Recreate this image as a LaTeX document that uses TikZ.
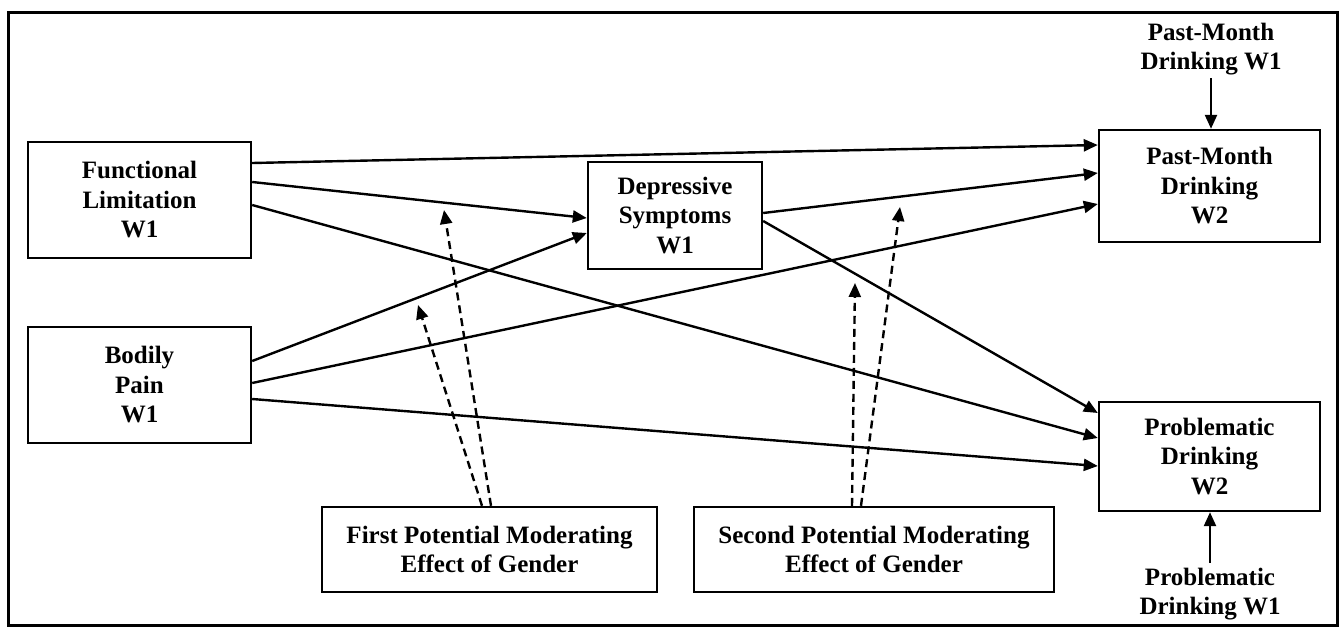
\documentclass[tikz,border=0pt]{standalone}
\usepackage{fontspec}
\setmainfont{Liberation Serif}
\usetikzlibrary{arrows.meta}
\begin{document}
\begin{tikzpicture}[x=1pt,y=-1pt,
  txt/.style={font=\fontsize{25}{29.5}\selectfont\bfseries, align=center},
  box/.style={txt, draw, line width=2.4pt, inner sep=0pt},
  arr/.style={line width=2.4pt, -{Triangle[length=14pt,width=12pt]}},
  darr/.style={arr, dash pattern=on 8pt off 5pt}]
\useasboundingbox (0,0) rectangle (1339,627);
\draw[line width=3pt] (8,12) rectangle (1337,625);
% boxes
\node[box, minimum width=223pt, minimum height=116pt] (fl) at (139.5,200) {Functional\\Limitation\\W1};
\node[box, minimum width=223pt, minimum height=116pt] (bp) at (139.5,385) {Bodily\\Pain\\W1};
\node[box, minimum width=174pt, minimum height=107pt] (dep) at (675,215.5) {Depressive\\Symptoms\\W1};
\node[box, minimum width=221pt, minimum height=112pt] (pm2) at (1209.5,186) {Past-Month\\Drinking\\W2};
\node[box, minimum width=221pt, minimum height=109pt] (pr2) at (1209.5,456.5) {Problematic\\Drinking\\W2};
\node[box, minimum width=335pt, minimum height=85pt] (mod1) at (489.5,549.5) {First Potential Moderating\\Effect of Gender};
\node[box, minimum width=360pt, minimum height=85pt] (mod2) at (874,549.5) {Second Potential Moderating\\Effect of Gender};
% outside labels
\node[txt, inner sep=3pt] (pm1) at (1211,49) {Past-Month\\Drinking W1};
\node[txt, inner sep=5pt] (pr1) at (1210,594) {Problematic\\Drinking W1};
\draw[arr] (pm1.south) -- (pm1.south |- pm2.north);
\draw[arr] (pr1.north) -- (pr1.north |- pr2.south);
% solid paths
\draw[arr] ([yshift=37pt]fl.east) -- ([yshift=41pt]pm2.west);
\draw[arr] ([yshift=18pt]fl.east) -- ([yshift=-2.5pt]dep.west);
\draw[arr] ([yshift=-5pt]fl.east) -- ([yshift=18.5pt]pr2.west);
\draw[arr] ([yshift=24pt]bp.east) -- ([yshift=-17.5pt]dep.west);
\draw[arr] ([yshift=2pt]bp.east) -- ([yshift=-18pt]pm2.west);
\draw[arr] ([yshift=-14pt]bp.east) -- ([yshift=-9.5pt]pr2.west);
\draw[arr] ([yshift=2.5pt]dep.east) -- ([yshift=13pt]pm2.west);
\draw[arr] ([yshift=-5.5pt]dep.east) -- ([yshift=43.5pt]pr2.west);
% moderation
\coordinate (m1a) at (418,305);
\coordinate (m1b) at (444,210);
\coordinate (m2a) at (855,283);
\coordinate (m2b) at (900,207);
\draw[darr] ([xshift=-7.5pt]mod1.north) -- (m1a);
\draw[darr] ([xshift=1.5pt]mod1.north) -- (m1b);
\draw[darr] ([xshift=-22pt]mod2.north) -- (m2a);
\draw[darr] ([xshift=-13pt]mod2.north) -- (m2b);
\end{tikzpicture}
\end{document}
